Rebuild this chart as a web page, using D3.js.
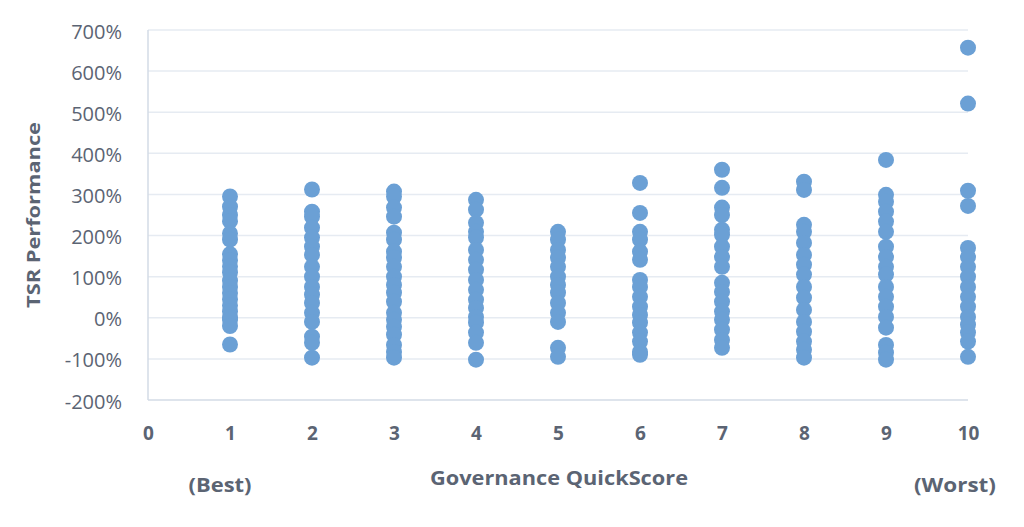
<!DOCTYPE html>
<html><head><meta charset="utf-8">
<script src="https://cdn.jsdelivr.net/npm/d3@7"></script>
<style>body{margin:0;background:#fff}svg{display:block}</style>
</head><body>
<svg id="c" width="1024" height="527"></svg>
<script>
const xTicks = [0,1,2,3,4,5,6,7,8,9,10];
const yTicks = [-200,-100,0,100,200,300,400,500,600,700];
const score1 = [295,270,250,235,205,190,155,140,125,110,90,75,60,45,30,15,0,-5,-20,-65];
const score2 = [312,258,246,219,195,173,153,124,100,75,56,36,12,-10,-46,-61,-97];
const score3 = [307,295,268,246,207,190,161,146,124,100,80,61,39,12,-5,-22,-41,-66,-83,-97];
const score4 = [287,263,231,209,195,165,141,117,92,68,44,24,2,-12,-36,-61,-102];
const score5 = [209,190,165,146,124,100,80,61,36,12,-10,-73,-95];
const score6 = [328,255,209,190,161,141,92,75,51,27,7,-12,-36,-58,-83,-90];
const score7 = [360,316,268,250,214,202,173,148,124,85,63,39,15,-5,-29,-54,-73];
const score8 = [331,311,226,209,182,153,129,105,75,49,19,-10,-34,-58,-78,-97];
const score9 = [384,299,282,258,234,209,173,148,124,105,75,51,27,2,-24,-66,-85,-102];
const score10 = [657,521,309,272,170,148,124,100,75,51,27,2,-17,-36,-58,-95];
const series = [score1,score2,score3,score4,score5,score6,score7,score8,score9,score10];

const svg = d3.select("#c");
const x = d3.scaleLinear().domain([0,10]).range([148,968]);
const y = d3.scaleLinear().domain([-200,700]).range([400,30]);
const txt = "#5b6473";
const font = "'Open Sans', sans-serif";

svg.append("g").selectAll("line").data(yTicks.filter(d=>d>-200)).join("line")
  .attr("x1",x(0)).attr("x2",x(10)).attr("y1",d=>y(d)).attr("y2",d=>y(d))
  .attr("stroke","#e6ebf2").attr("stroke-width",1.5);
svg.append("line").attr("x1",x(0)).attr("x2",x(10)).attr("y1",y(-200)).attr("y2",y(-200))
  .attr("stroke","#d3dbe6").attr("stroke-width",1.5);
svg.append("line").attr("x1",x(0)).attr("x2",x(0)).attr("y1",y(700)).attr("y2",y(-200))
  .attr("stroke","#d3dbe6").attr("stroke-width",1.5);

const yAxis = d3.axisLeft(y).tickValues(yTicks).tickSize(0).tickPadding(26).tickFormat(d=>d+"%");
const ya = svg.append("g").attr("transform",`translate(${x(0)},0)`).call(yAxis);
ya.select(".domain").remove();
ya.selectAll("text").attr("fill",txt).attr("font-family",font).attr("font-size",20).attr("dy","0.4em");

const xAxis = d3.axisBottom(x).tickValues(xTicks).tickSize(0).tickPadding(27).tickFormat(d3.format("d"));
const xa = svg.append("g").attr("transform",`translate(0,${y(-200)})`).call(xAxis);
xa.select(".domain").remove();
xa.selectAll("text").attr("fill",txt).attr("font-family",font).attr("font-size",19).attr("font-weight","bold");

const pts = series.flatMap((arr,i)=>arr.map(v=>({s:i+1,v})));
svg.append("g").selectAll("circle").data(pts).join("circle")
  .attr("cx",d=>x(d.s)).attr("cy",d=>y(d.v)).attr("r",8)
  .attr("fill","#6ba0d5");

svg.append("text").attr("transform","translate(40,215) rotate(-90)")
  .attr("text-anchor","middle").attr("fill",txt).attr("font-family",font)
  .attr("font-weight","bold").attr("font-size",18).attr("textLength",186).attr("lengthAdjust","spacingAndGlyphs")
  .text("TSR Performance");
svg.append("text").attr("x",559).attr("y",485).attr("text-anchor","middle")
  .attr("fill",txt).attr("font-family",font).attr("font-weight","bold").attr("font-size",19)
  .attr("textLength",258).attr("lengthAdjust","spacingAndGlyphs")
  .text("Governance QuickScore");
svg.append("text").attr("x",220).attr("y",492).attr("text-anchor","middle")
  .attr("fill",txt).attr("font-family",font).attr("font-weight","bold").attr("font-size",19)
  .attr("textLength",63).attr("lengthAdjust","spacingAndGlyphs")
  .text("(Best)");
svg.append("text").attr("x",955).attr("y",492).attr("text-anchor","middle")
  .attr("fill",txt).attr("font-family",font).attr("font-weight","bold").attr("font-size",19)
  .attr("textLength",82).attr("lengthAdjust","spacingAndGlyphs")
  .text("(Worst)");
</script>
</body></html>
